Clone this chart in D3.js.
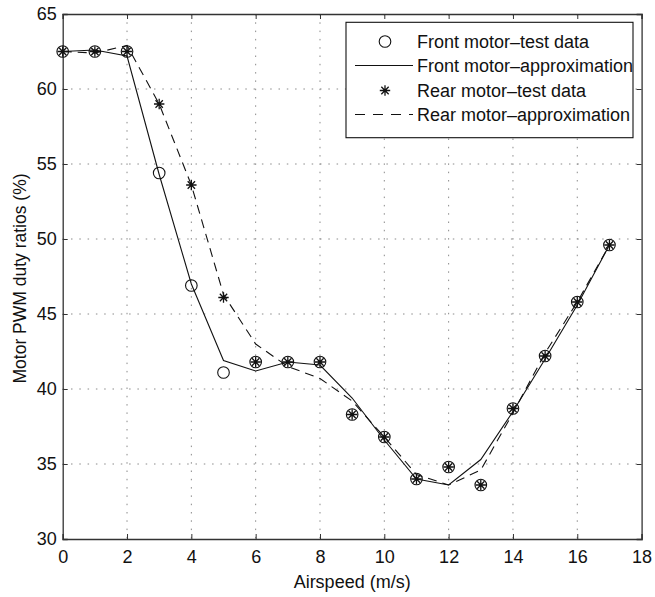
<!DOCTYPE html>
<html>
<head>
<meta charset="utf-8">
<script src="https://cdn.jsdelivr.net/npm/d3@7"></script>
<style>
  html, body { margin: 0; padding: 0; background: #fff; }
  svg { display: block; }
  text { font-family: "Liberation Sans", Arial, Helvetica, sans-serif; fill: #111; }
</style>
</head>
<body>
<svg id="chart" width="655" height="597"></svg>
<script>
// Airspeed (m/s) of each measurement
const airspeed = [0, 1, 2, 3, 4, 5, 6, 7, 8, 9, 10, 11, 12, 13, 14, 15, 16, 17];

// Motor PWM duty ratios (%)
const frontTest   = [62.5, 62.5, 62.5, 54.4, 46.9, 41.1, 41.8, 41.8, 41.8, 38.3, 36.8, 34.0, 34.8, 33.6, 38.7, 42.2, 45.8, 49.6];
const frontApprox = [62.5, 62.6, 62.2, 54.3, 47.0, 41.9, 41.2, 41.8, 41.6, 39.4, 36.6, 34.0, 33.6, 35.3, 38.5, 42.0, 45.6, 49.6];
const rearTest    = [62.5, 62.5, 62.5, 59.0, 53.6, 46.1, 41.8, 41.8, 41.8, 38.3, 36.8, 34.0, 34.8, 33.6, 38.7, 42.2, 45.8, 49.6];
const rearApprox  = [62.5, 62.4, 62.9, 59.0, 53.6, 46.3, 43.0, 41.5, 40.7, 39.2, 36.8, 34.3, 33.6, 34.6, 38.4, 42.4, 45.8, 49.6];

const xTicks = [0, 2, 4, 6, 8, 10, 12, 14, 16, 18];
const yTicks = [30, 35, 40, 45, 50, 55, 60, 65];

const legendLabels = [
  "Front motor\u2013test data",
  "Front motor\u2013approximation",
  "Rear motor\u2013test data",
  "Rear motor\u2013approximation"
];

const svg = d3.select("#chart");
const plotLeft = 62.7, plotRight = 641.6, plotTop = 14, plotBottom = 539;
const fontSize = 18;

const x = d3.scaleLinear().domain([0, 18]).range([plotLeft, plotRight]);
const y = d3.scaleLinear().domain([30, 65]).range([plotBottom, plotTop]);

// dotted grid
const grid = svg.append("g").attr("stroke", "#8a8a8a").attr("stroke-width", 1)
  .attr("stroke-dasharray", "1.5,6.8");
grid.selectAll("line.gx").data(xTicks.slice(1, -1)).join("line").attr("class", "gx")
  .attr("x1", d => x(d)).attr("x2", d => x(d))
  .attr("y1", plotTop).attr("y2", plotBottom);
grid.selectAll("line.gy").data(yTicks.slice(1, -1)).join("line").attr("class", "gy")
  .attr("x1", plotLeft).attr("x2", plotRight)
  .attr("y1", d => y(d)).attr("y2", d => y(d));

// axes with inward ticks, box style
const tickLen = 5;
const axBottom = d3.axisBottom(x).tickValues(xTicks).tickSize(-tickLen).tickPadding(11).tickFormat(d3.format("d"));
const axTop = d3.axisTop(x).tickValues(xTicks).tickSize(-tickLen).tickFormat("");
const axLeft = d3.axisLeft(y).tickValues(yTicks).tickSize(-tickLen).tickPadding(6).tickFormat(d3.format("d"));
const axRight = d3.axisRight(y).tickValues(yTicks).tickSize(-tickLen).tickFormat("");

function styleAxis(g) {
  g.select(".domain").attr("stroke", "#333").attr("stroke-width", 1.3);
  g.selectAll(".tick line").attr("stroke", "#333").attr("stroke-width", 1);
  g.selectAll(".tick text").attr("font-size", fontSize).attr("fill", "#111")
    .attr("font-family", "'Liberation Sans', Arial, sans-serif");
}
svg.append("g").attr("transform", `translate(0,${plotBottom})`).call(axBottom).call(styleAxis);
svg.append("g").attr("transform", `translate(0,${plotTop})`).call(axTop).call(styleAxis);
svg.append("g").attr("transform", `translate(${plotLeft},0)`).call(axLeft).call(styleAxis);
svg.append("g").attr("transform", `translate(${plotRight},0)`).call(axRight).call(styleAxis);

// axis titles
svg.append("text")
  .attr("x", (plotLeft + plotRight) / 2).attr("y", 588)
  .attr("text-anchor", "middle").attr("font-size", fontSize)
  .text("Airspeed (m/s)");
svg.append("text")
  .attr("transform", `translate(26,${(plotTop + plotBottom) / 2 + 2}) rotate(-90)`)
  .attr("text-anchor", "middle").attr("font-size", 17.5)
  .text("Motor PWM duty ratios (%)");

// approximation curves
const line = d3.line().x(d => x(d[0])).y(d => y(d[1]));
const pairs = arr => airspeed.map((s, i) => [s, arr[i]]);

svg.append("path").datum(pairs(frontApprox))
  .attr("d", line).attr("fill", "none").attr("stroke", "#111").attr("stroke-width", 1.1);
svg.append("path").datum(pairs(rearApprox))
  .attr("d", line).attr("fill", "none").attr("stroke", "#111").attr("stroke-width", 1.1)
  .attr("stroke-dasharray", "9,6");

// markers
const starPath = (r) => {
  const d = r * Math.SQRT1_2;
  return `M0,${-r}V${r}M${-r},0H${r}M${-d},${-d}L${d},${d}M${-d},${d}L${d},${-d}`;
};

svg.append("g").selectAll("circle").data(pairs(frontTest)).join("circle")
  .attr("cx", d => x(d[0])).attr("cy", d => y(d[1])).attr("r", 5.8)
  .attr("fill", "none").attr("stroke", "#111").attr("stroke-width", 1.1);

svg.append("g").selectAll("path").data(pairs(rearTest)).join("path")
  .attr("transform", d => `translate(${x(d[0])},${y(d[1])})`)
  .attr("d", starPath(5.2))
  .attr("fill", "none").attr("stroke", "#111").attr("stroke-width", 1.3);

// legend
const lg = svg.append("g");
lg.append("rect").attr("x", 346).attr("y", 22.3).attr("width", 287).attr("height", 115.4)
  .attr("fill", "#fff").attr("stroke", "#111").attr("stroke-width", 1.1);
const rowY = [41.5, 65.5, 90.5, 114.5];
legendLabels.forEach((lab, i) => {
  const cy = rowY[i];
  if (i === 0) {
    lg.append("circle").attr("cx", 385).attr("cy", cy).attr("r", 5.8)
      .attr("fill", "none").attr("stroke", "#111").attr("stroke-width", 1.1);
  } else if (i === 2) {
    lg.append("path").attr("transform", `translate(385,${cy})`).attr("d", starPath(5.2))
      .attr("fill", "none").attr("stroke", "#111").attr("stroke-width", 1.3);
  } else {
    lg.append("line").attr("x1", 355).attr("x2", 413).attr("y1", cy).attr("y2", cy)
      .attr("stroke", "#111").attr("stroke-width", 1.1)
      .attr("stroke-dasharray", i === 3 ? "10,8" : null);
  }
  lg.append("text").attr("x", 417).attr("y", cy + 6).attr("font-size", fontSize).text(lab);
});
</script>
</body>
</html>
